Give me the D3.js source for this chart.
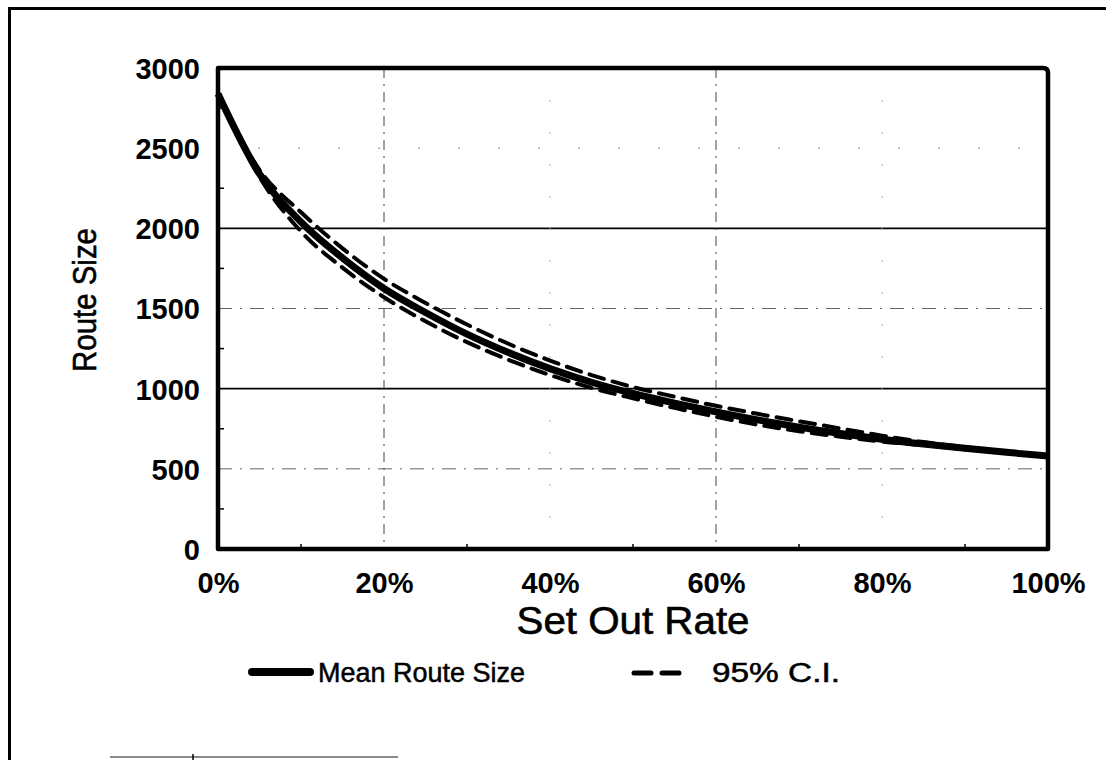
<!DOCTYPE html>
<html>
<head>
<meta charset="utf-8">
<script src="https://cdn.jsdelivr.net/npm/d3@7"></script>
<style>
  html, body { margin: 0; padding: 0; background: #fff; }
  svg { display: block; }
  text { font-family: "Liberation Sans", Arial, Helvetica, sans-serif; fill: #000; }
</style>
</head>
<body>
<svg id="chart" width="1106" height="760"></svg>
<script>
// Set out rate (fraction of customers) sampled every 5%
const setOutRate = [0, 0.05, 0.10, 0.15, 0.20, 0.25, 0.30, 0.35, 0.40, 0.45, 0.50,
                    0.55, 0.60, 0.65, 0.70, 0.75, 0.80, 0.85, 0.90, 0.95, 1.00];
// Mean route size at each set out rate
const meanRouteSize = [2840, 2340, 2040, 1815, 1625, 1475, 1340, 1225, 1125, 1040, 970,
                       910, 855, 805, 760, 720, 685, 655, 628, 603, 580];
// 95% confidence interval bounds
const ciUpper = [2840, 2365, 2100, 1875, 1685, 1535, 1400, 1280, 1175, 1085, 1010,
                 950, 893, 843, 797, 752, 707, 667, 636, 607, 582];
const ciLower = [2840, 2320, 1980, 1755, 1570, 1420, 1290, 1180, 1085, 1005, 940,
                 880, 825, 775, 735, 700, 670, 648, 622, 600, 578];

const yTicks = [0, 500, 1000, 1500, 2000, 2500, 3000];
const xTicks = [0, 0.2, 0.4, 0.6, 0.8, 1.0];
const xLabelText = "Set Out Rate";
const yLabelText = "Route Size";
const legendLabels = ["Mean Route Size", "95% C.I."];

const svg = d3.select("#chart");

// outer frame (open to the right and bottom)
svg.append("path")
  .attr("d", "M9.5,760 L9.5,8.5 L1106,8.5")
  .attr("fill", "none").attr("stroke", "#000").attr("stroke-width", 3);

// faint trailing rule at the bottom edge
svg.append("line").attr("x1", 110).attr("x2", 398).attr("y1", 757).attr("y2", 757)
  .attr("stroke", "#8a8a8a").attr("stroke-width", 2);
svg.append("line").attr("x1", 193).attr("x2", 193).attr("y1", 754).attr("y2", 760)
  .attr("stroke", "#000").attr("stroke-width", 1.5);

const plotL = 218, plotR = 1048, plotT = 68, plotB = 549;
const x = d3.scaleLinear().domain([0, 1]).range([plotL, plotR]);
const y = d3.scaleLinear().domain([0, 3000]).range([plotB, plotT]);

const grid = svg.append("g");
// solid gridlines at 1000 and 2000
grid.selectAll("line.solid").data([1000, 2000]).join("line").attr("class", "solid")
  .attr("x1", plotL).attr("x2", plotR).attr("y1", d => y(d)).attr("y2", d => y(d))
  .attr("stroke", "#000").attr("stroke-width", 1.6);
// dash-dot gridlines at 500, 1500, 2500
grid.selectAll("line.hdash").data([500, 1500, 2500]).join("line").attr("class", "hdash")
  .attr("x1", plotL).attr("x2", plotR).attr("y1", d => y(d)).attr("y2", d => y(d))
  .attr("stroke", d => d === 2500 ? "#888" : "#666").attr("stroke-width", 1)
  .attr("stroke-dasharray", d => d === 2500 ? "2,38" : "14,8,2,8");
// vertical gridlines
grid.selectAll("line.v").data([0.2, 0.4, 0.6, 0.8]).join("line").attr("class", "v")
  .attr("x1", d => x(d)).attr("x2", d => x(d)).attr("y1", plotT).attr("y2", plotB)
  .attr("stroke", d => (d === 0.2 || d === 0.6) ? "#444" : "#aaa").attr("stroke-width", 1)
  .attr("stroke-dasharray", d => (d === 0.2 || d === 0.6) ? "10,6,2,6" : "2,30");

// axes via d3 axis generators (labels styled afterwards)
const yAxis = svg.append("g").attr("transform", `translate(${plotL},0)`)
  .call(d3.axisLeft(y).tickValues(yTicks).tickSize(0).tickPadding(18).tickFormat(d3.format("d")));
yAxis.select(".domain").remove();
yAxis.selectAll("text").attr("font-size", 29).attr("font-weight", "bold").attr("dy", "0.36em")
  .attr("font-family", "Liberation Sans, Arial, sans-serif").attr("fill", "#000");

const xAxis = svg.append("g").attr("transform", `translate(0,${plotB})`)
  .call(d3.axisBottom(x).tickValues(xTicks).tickSize(0).tickPadding(23).tickFormat(d3.format(".0%")));
xAxis.select(".domain").remove();
xAxis.selectAll("text").attr("font-size", 29).attr("font-weight", "bold").attr("dy", "0.71em")
  .attr("font-family", "Liberation Sans, Arial, sans-serif").attr("fill", "#000");

// minor ticks inside the frame
svg.append("g").selectAll("line").data([250, 750, 1250, 1750, 2250, 2750]).join("line")
  .attr("x1", plotL).attr("x2", plotL + 6).attr("y1", d => y(d)).attr("y2", d => y(d))
  .attr("stroke", "#000").attr("stroke-width", 1.5);
svg.append("g").selectAll("line").data([0.1, 0.3, 0.5, 0.7, 0.9]).join("line")
  .attr("x1", d => x(d)).attr("x2", d => x(d)).attr("y1", plotB).attr("y2", plotB - 5)
  .attr("stroke", "#000").attr("stroke-width", 1.5);

// plot frame with a rounded top-right corner
const r = 5;
svg.append("path")
  .attr("d", `M${plotL},${plotB} L${plotL},${plotT} L${plotR - r},${plotT} Q${plotR},${plotT} ${plotR},${plotT + r} L${plotR},${plotB} Z`)
  .attr("fill", "none").attr("stroke", "#000").attr("stroke-width", 4.5).attr("stroke-linejoin", "round");

const pts = arr => setOutRate.map((s, i) => [s, arr[i]]);
const line = d3.line().x(d => x(d[0])).y(d => y(d[1])).curve(d3.curveMonotoneX);

// confidence interval bounds
[ciUpper, ciLower].forEach(arr => {
  svg.append("path").datum(pts(arr)).attr("d", line)
    .attr("fill", "none").attr("stroke", "#000").attr("stroke-width", 4)
    .attr("stroke-dasharray", "15,9").attr("stroke-linecap", "round");
});
// mean route size
svg.append("path").datum(pts(meanRouteSize)).attr("d", line)
  .attr("fill", "none").attr("stroke", "#000").attr("stroke-width", 7).attr("stroke-linecap", "butt");

// axis titles
svg.append("text").attr("x", (plotL + plotR) / 2).attr("y", 634)
  .attr("text-anchor", "middle").attr("font-size", 38).attr("font-weight", 500)
  .attr("stroke", "#000").attr("stroke-width", 0.6)
  .attr("textLength", 233).attr("lengthAdjust", "spacingAndGlyphs").text(xLabelText);
svg.append("text").attr("transform", "translate(96,300) rotate(-90)")
  .attr("text-anchor", "middle").attr("font-size", 33)
  .attr("stroke", "#000").attr("stroke-width", 0.6)
  .attr("textLength", 144).attr("lengthAdjust", "spacingAndGlyphs").text(yLabelText);

// legend
const lg = svg.append("g");
lg.append("line").attr("x1", 252).attr("x2", 310).attr("y1", 672).attr("y2", 672)
  .attr("stroke", "#000").attr("stroke-width", 8).attr("stroke-linecap", "round");
lg.append("text").attr("x", 318).attr("y", 682).attr("font-size", 27)
  .attr("stroke", "#000").attr("stroke-width", 0.5)
  .attr("textLength", 207).attr("lengthAdjust", "spacingAndGlyphs").text(legendLabels[0]);
lg.append("line").attr("x1", 634).attr("x2", 682).attr("y1", 673).attr("y2", 673)
  .attr("stroke", "#000").attr("stroke-width", 5).attr("stroke-dasharray", "17,11").attr("stroke-linecap", "round");
lg.append("text").attr("x", 712).attr("y", 682).attr("font-size", 27)
  .attr("stroke", "#000").attr("stroke-width", 0.5)
  .attr("textLength", 128).attr("lengthAdjust", "spacingAndGlyphs").text(legendLabels[1]);
</script>
</body>
</html>
